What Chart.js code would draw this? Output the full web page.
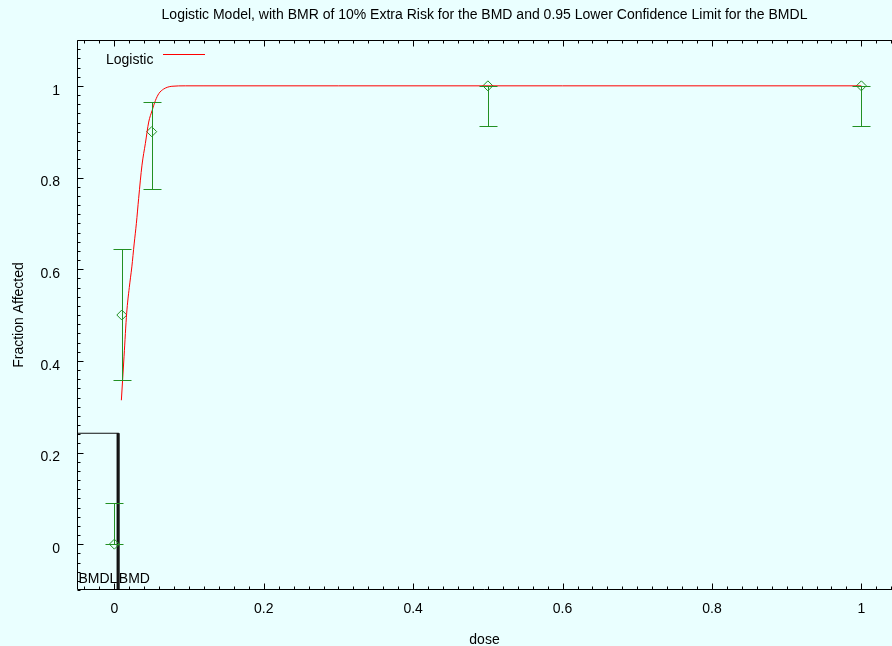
<!DOCTYPE html>
<html>
<head>
<meta charset="utf-8">
<title>Logistic Model</title>
<script src="https://cdn.jsdelivr.net/npm/chart.js@4.4.1/dist/chart.umd.min.js"></script>
<style>
  html, body { margin: 0; padding: 0; background: #eaffff; overflow: hidden; }
  #wrap { width: 892px; height: 646px; overflow: hidden; }
</style>
</head>
<body>
<div id="wrap"><canvas id="myChart" width="898" height="646"></canvas></div>
<script>
// Observed data with confidence limits
const doses = [0, 0.01, 0.05, 0.5, 1];
const fractions = [0, 0.5, 0.9, 1, 1];
const lowerCI = [0, 0.358, 0.775, 0.912, 0.912];
const upperCI = [0.089, 0.643, 0.964, 1, 1];

// Fitted logistic curve
const curveDose = [0.0094, 0.013, 0.0165, 0.02, 0.0234, 0.0265, 0.0295, 0.0325, 0.037, 0.0415,
                   0.046, 0.0505, 0.055, 0.0595, 0.066, 0.077, 0.095, 0.12, 0.3, 0.6, 1.0];
const curveFrac = [0.314, 0.41, 0.504, 0.56, 0.605, 0.655, 0.70, 0.754, 0.827, 0.874,
                   0.921, 0.946, 0.968, 0.983, 0.993, 0.999, 1.0, 1.0, 1.0, 1.0, 1.0];

// Benchmark dose markers
const bmr = 0.242;
const bmd = 0.006;
const bmdl = 0.004;

// Axes
const xMin = -0.05, xMax = 1.041;
const yMin = -0.1, yMax = 1.1;
const xTickValues = [0, 0.2, 0.4, 0.6, 0.8, 1];
const yTickValues = [0, 0.2, 0.4, 0.6, 0.8, 1];
const minorStep = 0.02;

const green = '#239023';
const FONT = '"Liberation Sans", Arial, sans-serif';
Chart.defaults.font.family = FONT;
Chart.defaults.font.size = 14;
Chart.defaults.color = '#000';

const minorTicks = (lo, hi) => {
    const out = [];
    for (let v = Math.ceil(lo / minorStep) * minorStep; v <= hi + 1e-9; v += minorStep) {
        out.push(Math.round(v * 1000) / 1000);
    }
    return out;
};

// background
const bgPlugin = {
    id: 'bg',
    beforeDraw(chart) {
        const c = chart.ctx;
        c.save();
        c.fillStyle = '#eaffff';
        c.fillRect(0, 0, chart.width, chart.height);
        c.restore();
    }
};

// error bars drawn through the scales
const errorBars = {
    id: 'errorBars',
    afterDatasetsDraw(chart) {
        const c = chart.ctx, xs = chart.scales.x, ys = chart.scales.y;
        c.save();
        c.strokeStyle = green;
        c.lineWidth = 1;
        doses.forEach((d, i) => {
            const px = Math.round(xs.getPixelForValue(d)) + 0.5;
            const lo = Math.round(ys.getPixelForValue(lowerCI[i])) + 0.5;
            const hi = Math.round(ys.getPixelForValue(upperCI[i])) + 0.5;
            c.beginPath();
            c.moveTo(px, lo); c.lineTo(px, hi);
            c.moveTo(px - 9, lo); c.lineTo(px + 9, lo);
            c.moveTo(px - 9, hi); c.lineTo(px + 9, hi);
            c.stroke();
        });
        c.restore();
    }
};

// frame, inward ticks, title, legend, BMD labels
const frame = {
    id: 'frame',
    afterDraw(chart) {
        const c = chart.ctx, xs = chart.scales.x, ys = chart.scales.y;
        const a = chart.chartArea;
        const L = a.left + 0.5, T = a.top + 0.5, B = a.bottom - 0.5, R = a.right;
        c.save();
        c.strokeStyle = '#000';
        c.lineWidth = 1;
        c.beginPath();
        c.moveTo(R, T); c.lineTo(L, T); c.lineTo(L, B); c.lineTo(R, B);
        minorTicks(xMin, xMax).forEach(v => {
            const len = xTickValues.some(t => Math.abs(t - v) < 1e-6) ? 6 : 3;
            const px = Math.round(xs.getPixelForValue(v)) + 0.5;
            c.moveTo(px, B); c.lineTo(px, B - len);
            c.moveTo(px, T); c.lineTo(px, T + len);
        });
        minorTicks(yMin, yMax).forEach(v => {
            const len = yTickValues.some(t => Math.abs(t - v) < 1e-6) ? 6 : 3;
            const py = Math.round(ys.getPixelForValue(v)) + 0.5;
            c.moveTo(L, py); c.lineTo(L + len, py);
        });
        c.stroke();

        c.fillStyle = '#000';
        c.font = '14px ' + FONT;
        c.textAlign = 'center';
        c.textBaseline = 'middle';
        c.fillText('Logistic Model, with BMR of 10% Extra Risk for the BMD and 0.95 Lower Confidence Limit for the BMDL',
            (a.left + 892) / 2, 15);

        // legend
        c.textAlign = 'left';
        c.textBaseline = 'alphabetic';
        c.fillText('Logistic', 106, 63.5);
        c.strokeStyle = '#ff0000';
        c.beginPath();
        c.moveTo(163, 54.5); c.lineTo(205, 54.5);
        c.stroke();

        // BMDL / BMD labels
        const baseY = ys.getPixelForValue(yMin) - 7;
        c.textAlign = 'right';
        c.fillText('BMDL', xs.getPixelForValue(bmdl), baseY);
        c.textAlign = 'left';
        c.fillText('BMD', xs.getPixelForValue(bmd), baseY);
        c.restore();
    }
};

const ctx = document.getElementById('myChart').getContext('2d');
const chart = new Chart(ctx, {
    type: 'scatter',
    data: {
        datasets: [
            {
                type: 'line',
                label: 'Logistic',
                data: curveDose.map((x, i) => ({ x: x, y: curveFrac[i] })),
                borderColor: '#ff0000',
                borderWidth: 1,
                pointRadius: 0,
                cubicInterpolationMode: 'monotone',
                fill: false
            },
            {
                label: 'Observed',
                data: doses.map((x, i) => ({ x: x, y: fractions[i] })),
                pointStyle: 'rectRot',
                pointRadius: 5,
                borderColor: green,
                backgroundColor: 'rgba(0,0,0,0)',
                borderWidth: 1
            },
            {
                type: 'line',
                label: 'BMD',
                data: [{ x: xMin, y: bmr }, { x: bmd, y: bmr }, { x: bmd, y: yMin }],
                borderColor: '#111',
                borderWidth: 1,
                pointRadius: 0,
                fill: false
            },
            {
                type: 'line',
                label: 'BMDL',
                data: [{ x: bmdl, y: bmr }, { x: bmdl, y: yMin }],
                borderColor: '#111',
                borderWidth: 1,
                pointRadius: 0,
                fill: false
            }
        ]
    },
    options: {
        responsive: false,
        animation: false,
        devicePixelRatio: 1,
        events: [],
        layout: { padding: { top: 40, left: 0, right: 0, bottom: 0 } },
        plugins: {
            legend: { display: false },
            tooltip: { enabled: false },
            title: { display: false }
        },
        scales: {
            x: {
                type: 'linear',
                min: xMin,
                max: xMax,
                grid: { display: false },
                border: { display: false },
                ticks: { padding: 3, maxRotation: 0, autoSkip: false, callback: v => String(v) },
                afterBuildTicks: s => { s.ticks = xTickValues.map(v => ({ value: v })); },
                afterFit: s => { s.height = 56; },
                title: { display: true, text: 'dose', font: { size: 14, lineHeight: 0.8 }, padding: { top: 0, bottom: 0 } }
            },
            y: {
                type: 'linear',
                min: yMin,
                max: yMax,
                grid: { display: false },
                border: { display: false },
                ticks: { padding: 9, labelOffset: 5, autoSkip: false, callback: v => String(v) },
                afterBuildTicks: s => { s.ticks = yTickValues.map(v => ({ value: v })); },
                afterFit: s => { s.width = 77; },
                title: { display: true, text: 'Fraction Affected', font: { size: 14 }, padding: { top: 11, bottom: 0 } }
            }
        }
    },
    plugins: [bgPlugin, errorBars, frame]
});
</script>
</body>
</html>
